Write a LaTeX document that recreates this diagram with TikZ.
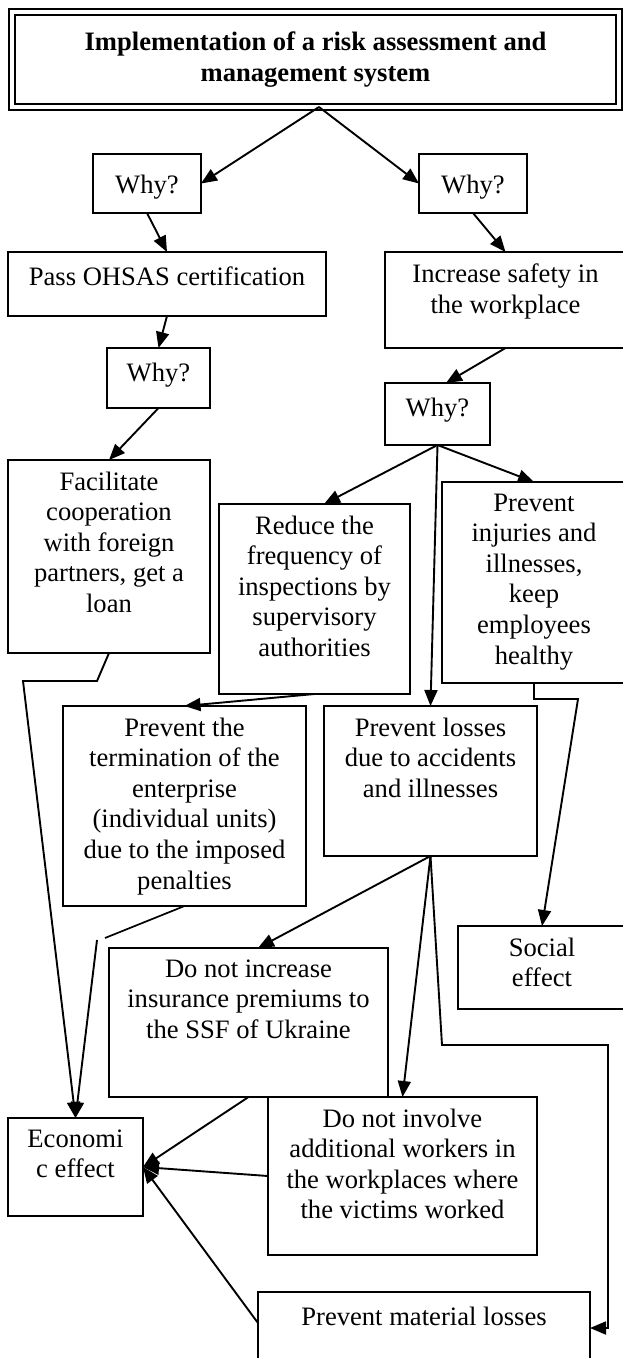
\documentclass[tikz,border=0pt]{standalone}
\usepackage{fontspec}
\setmainfont{Liberation Serif}
\usetikzlibrary{arrows.meta}
\newcommand{\boxfont}{\fontsize{26.6pt}{30.6pt}\selectfont}
\tikzset{
  box/.style={draw, line width=1.6pt, inner sep=0pt, outer sep=0pt},
  txt/.style={anchor=north, align=center, inner sep=0pt, yshift=-11.5pt,
    font=\boxfont, execute at begin node=\strut},
  arr/.style={line width=1.9pt, -{Triangle[length=16pt,width=13pt]}},
  link/.style={line width=1.7pt}
}
\begin{document}
\begin{tikzpicture}[x=1pt, y=-1pt]
\useasboundingbox (0,0) rectangle (623,1358);
\clip (0,0) rectangle (623,1358);
% boxes
\node[box, double, double distance=4pt, line width=1.9pt, minimum width=607pt,
  minimum height=95pt, align=center, font=\boxfont\bfseries] (title) at (315.5,59.5)
  {Implementation of a risk assessment and\\ management system};
\node[box, minimum width=108pt, minimum height=59pt, label={[txt, yshift=-6pt]north:Why?}] (why1) at (147,183.5) {};
\node[box, minimum width=108pt, minimum height=59pt, label={[txt, yshift=-6pt]north:Why?}] (why2) at (473,183.5) {};
\node[box, minimum width=318pt, minimum height=64pt, label={[txt]north:Pass OHSAS certification}] (pass) at (167,284) {};
\node[box, minimum width=241pt, minimum height=96pt, label={[txt]north:{Increase safety in\\ the workplace}}] (incr) at (505.5,300) {};
\node[box, minimum width=103pt, minimum height=60pt, label={[txt]north:Why?}] (why3) at (158.5,378) {};
\node[box, minimum width=105pt, minimum height=62pt, label={[txt]north:Why?}] (why4) at (437.5,414) {};
\node[box, minimum width=202pt, minimum height=193pt, label={[txt]north:{Facilitate\\ cooperation\\ with foreign\\ partners, get a\\ loan}}] (facil) at (109,556.5) {};
\node[box, minimum width=191pt, minimum height=190pt, label={[txt]north:{Reduce the\\ frequency of\\ inspections by\\ supervisory\\ authorities}}] (reduce) at (314.5,599) {};
\node[box, minimum width=184pt, minimum height=201pt, label={[txt]north:{Prevent\\ injuries and\\ illnesses,\\ keep\\ employees\\ healthy}}] (injur) at (534,582.5) {};
\node[box, minimum width=243pt, minimum height=200pt, label={[txt]north:{Prevent the\\ termination of the\\ enterprise\\ (individual units)\\ due to the imposed\\ penalties}}] (termin) at (184.5,806) {};
\node[box, minimum width=213pt, minimum height=150pt, label={[txt]north:{Prevent losses\\ due to accidents\\ and illnesses}}] (losses) at (430.5,781) {};
\node[box, minimum width=168pt, minimum height=83pt, label={[txt]north:{Social\\ effect}}] (social) at (542,967.5) {};
\node[box, minimum width=279pt, minimum height=149pt, label={[txt]north:{Do not increase\\ insurance premiums to\\ the SSF of Ukraine}}] (insur) at (248.5,1022.5) {};
\node[box, minimum width=135pt, minimum height=98pt, label={[txt]north:{Economi\\ c effect}}] (econ) at (75.5,1167) {};
\node[box, minimum width=269pt, minimum height=158pt, label={[txt]north:{Do not involve\\ additional workers in\\ the workplaces where\\ the victims worked}}] (involve) at (402.5,1176) {};
\node[box, minimum width=332pt, minimum height=108pt, label={[txt]north:Prevent material losses}] (material) at (424,1346) {};
% connectors
\draw[arr] ([xshift=3.5pt]title.south) -- (why1.east);
\draw[arr] ([xshift=3.5pt]title.south) -- (why2.west);
\draw[arr] (why1.south) -- (pass.north);
\draw[arr] (why2.south) -- (incr.north);
\draw[arr] (pass.south) -- (why3.north);
\draw[arr] (incr.south) -- ([xshift=8.5pt]why4.north);
\draw[arr] (why3.south) -- (facil.north);
\draw[arr] (why4.south) -- ([xshift=9.5pt]reduce.north);
\draw[arr] (why4.south) -- (losses.north);
\draw[arr] (why4.south) -- (injur.north);
\draw[arr] (reduce.south) -- (termin.north);
\coordinate (fa1) at (97,681);
\coordinate (fa2) at (23,681);
\draw[arr] (facil.south) -- (fa1) -- (fa2) -- (econ.north);
\coordinate (te1) at (105,938);
\coordinate (te2) at (97,940);
\draw[link] (termin.south) -- (te1);
\draw[arr] (te2) -- (econ.north);
\coordinate (in1) at (534,699);
\coordinate (in2) at (578,699);
\draw[arr] (injur.south) -- (in1) -- (in2) -- (social.north);
\draw[arr] (losses.south) -- ([xshift=9.5pt]insur.north);
\draw[arr] (losses.south) -- (involve.north);
\coordinate (lo1) at (442,1045);
\coordinate (lo2) at (608,1045);
\coordinate (lo3) at (608,1328);
\draw[arr] (losses.south) -- (lo1) -- (lo2) -- (lo3) -- (material.east |- lo3);
\draw[arr] (insur.south) -- (econ.east);
\draw[arr] (involve.west) -- (econ.east);
\draw[arr] ([yshift=-31pt]material.north west) -- (econ.east);
\end{tikzpicture}
\end{document}
